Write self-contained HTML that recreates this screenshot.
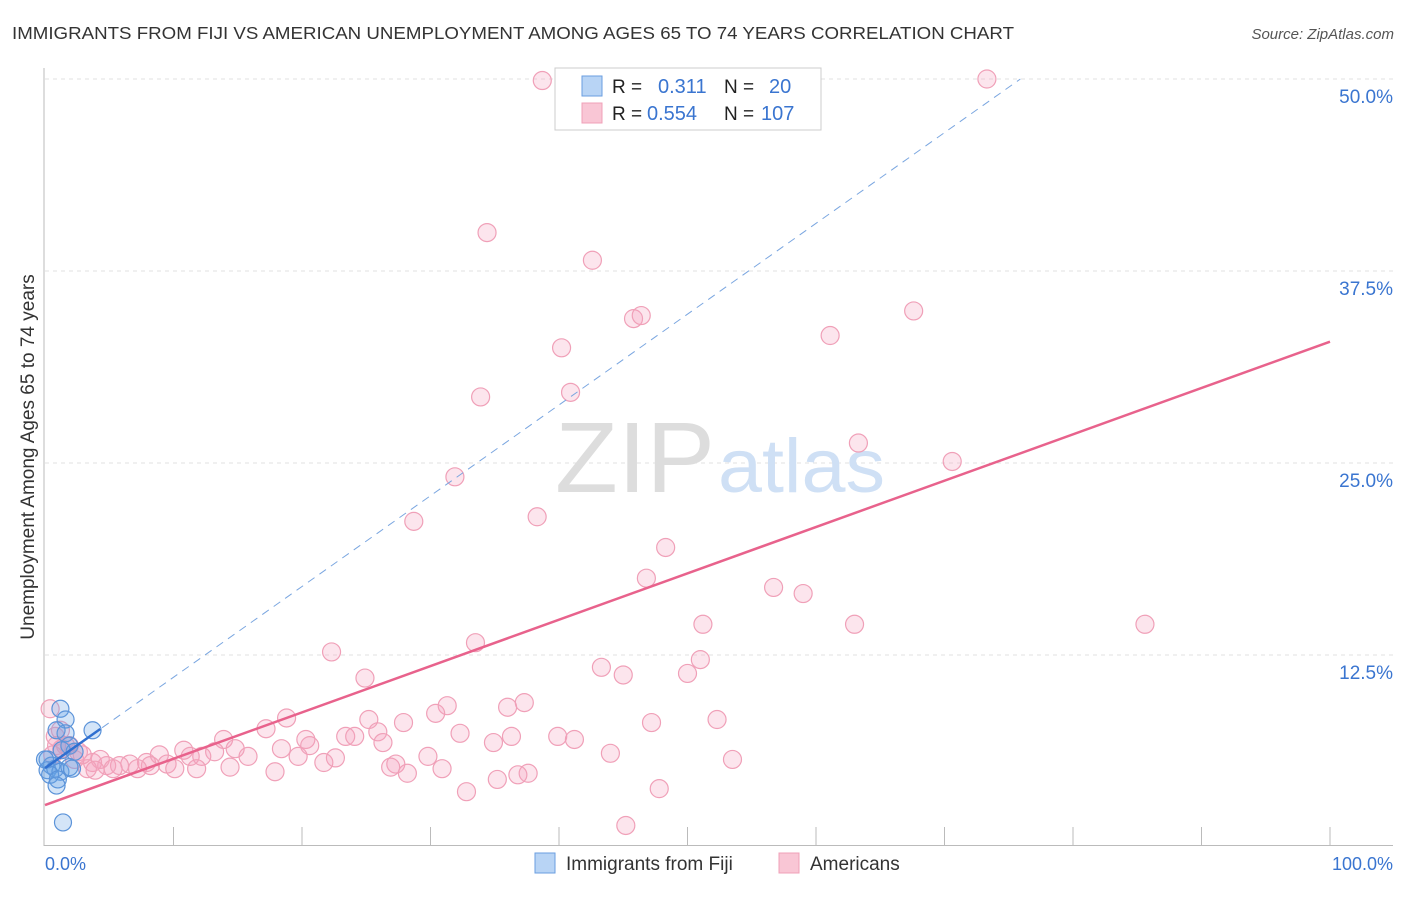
<!DOCTYPE html>
<html><head><meta charset="utf-8"><style>
body{margin:0;background:#fff;font-family:"Liberation Sans",sans-serif;}
svg text{font-family:"Liberation Sans",sans-serif;}
</style></head><body>
<svg id="c" width="1406" height="892">
<text x="12" y="39" font-size="17.5" fill="#333" textLength="1002" lengthAdjust="spacingAndGlyphs">IMMIGRANTS FROM FIJI VS AMERICAN UNEMPLOYMENT AMONG AGES 65 TO 74 YEARS CORRELATION CHART</text>
<text x="1394" y="39" font-size="15" fill="#555" font-style="italic" text-anchor="end">Source: ZipAtlas.com</text>
<g id="grid"></g>
<text x="715" y="492" font-size="100" fill="#ddd" text-anchor="end" font-family="Liberation Serif" textLength="160" lengthAdjust="spacingAndGlyphs">ZIP</text>
<text x="718" y="492" font-size="76" fill="#cfe0f5" textLength="167" lengthAdjust="spacingAndGlyphs">atlas</text>
<g id="marks"></g>
<text transform="translate(34,457) rotate(-90)" font-size="19" fill="#333" text-anchor="middle">Unemployment Among Ages 65 to 74 years</text>
<text x="45" y="870" font-size="18" fill="#3a75d0">0.0%</text>
<text x="1393" y="870" font-size="18" fill="#3a75d0" text-anchor="end">100.0%</text>
<g>
<rect x="555" y="68" width="266" height="62" fill="#fff" stroke="#ccc"/>
<rect x="582" y="76" width="20" height="20" fill="#b8d4f5" stroke="#6a9ee0"/>
<rect x="582" y="103" width="20" height="20" fill="#f9c6d5" stroke="#f0a0b8"/>
<text x="612" y="93" font-size="19" fill="#222">R = </text><text x="658" y="93" font-size="20" fill="#3a75d0">0.311</text>
<text x="724" y="93" font-size="19" fill="#222">N = </text><text x="769" y="93" font-size="20" fill="#3a75d0">20</text>
<text x="612" y="120" font-size="19" fill="#222">R = </text><text x="647" y="120" font-size="20" fill="#3a75d0">0.554</text>
<text x="724" y="120" font-size="19" fill="#222">N = </text><text x="761" y="120" font-size="20" fill="#3a75d0">107</text>
</g>
<g>
<rect x="535" y="853" width="20" height="20" fill="#b8d4f5" stroke="#6a9ee0"/>
<text x="566" y="870" font-size="19" fill="#333">Immigrants from Fiji</text>
<rect x="779" y="853" width="20" height="20" fill="#f9c6d5" stroke="#f0a0b8"/>
<text x="810" y="870" font-size="19" fill="#333">Americans</text>
</g>
</svg>
<script>
const yTicks=[12.5,25,37.5,50];
const yTickLabels=["12.5%","25.0%","37.5%","50.0%"];
const pinkX=[38.7,73.3,34.4,42.6,45.8,46.4,67.6,61.1,40.2,40.9,33.9,63.3,70.6,31.9,28.7,38.3,48.3,46.8,56.7,59.0,51.2,63.0,85.6,33.5,22.3,51.0,43.3,50.0,45.0,24.9,31.3,37.3,36.0,30.4,18.8,25.2,47.2,52.3,27.9,17.2,32.3,36.3,23.4,24.1,39.9,25.9,41.2,13.9,20.3,34.9,26.3,20.6,18.4,14.8,44.0,10.8,29.8,13.2,19.7,22.6,15.8,12.2,8.9,11.3,53.5,21.7,27.3,30.9,26.9,7.9,6.6,9.5,4.8,3.7,5.8,2.6,1.3,0.8,0.4,1.6,4.3,8.2,10.1,11.8,14.4,3.3,5.3,7.2,28.2,17.9,37.6,36.8,35.2,32.8,47.8,45.2,1.9,2.3,2.9,0.9,3.9,0.6,1.2];
const pinkY=[49.9,50.0,40.0,38.2,34.4,34.6,34.9,33.3,32.5,29.6,29.3,26.3,25.1,24.1,21.2,21.5,19.5,17.5,16.9,16.5,14.5,14.5,14.5,13.3,12.7,12.2,11.7,11.3,11.2,11.0,9.2,9.4,9.1,8.7,8.4,8.3,8.1,8.3,8.1,7.7,7.4,7.2,7.2,7.2,7.2,7.5,7.0,7.0,7.0,6.8,6.8,6.6,6.4,6.4,6.1,6.3,5.9,6.2,5.9,5.8,5.9,5.9,6.0,5.9,5.7,5.5,5.4,5.1,5.2,5.5,5.4,5.4,5.3,5.5,5.3,6.2,6.4,7.2,9.0,6.6,5.7,5.3,5.1,5.1,5.2,5.1,5.1,5.1,4.8,4.9,4.8,4.7,4.4,3.6,3.8,1.4,6.6,5.7,6.0,6.6,5.0,6.0,7.6];
const blueX=[1.2,1.6,3.7,1.6,0.9,1.9,1.3,2.3,0.2,0.5,0.2,0.8,1.2,1.9,0.4,1.0,0.9,1.4,2.1,0.0];
const blueY=[9.0,8.3,7.6,7.4,7.6,6.6,6.3,6.2,5.7,5.3,5.0,5.1,4.9,5.2,4.7,4.4,4.0,1.6,5.1,5.7];
const pinkTrend=[2.73,32.9];
const blueTrend=[5.14,0.591];
const NS="http://www.w3.org/2000/svg";
const X=v=>45+v*12.85, Y=v=>847-v*15.36;
function mk(t,a,p){const e=document.createElementNS(NS,t);for(const k in a)e.setAttribute(k,a[k]);p.appendChild(e);return e;}
const g=document.getElementById('grid'), m=document.getElementById('marks');
yTicks.forEach((t,i)=>{
 const l=mk('line',{x1:45,x2:1393,y1:Y(t),y2:Y(t),stroke:'#e2e2e2','stroke-dasharray':'4,4'},g);
 
 
 const tx=mk('text',{x:1393,y:Y(t)+24,'font-size':19,fill:'#3a75d0','text-anchor':'end'},g);
 tx.textContent=yTickLabels[i];
 
 
});
const ax=mk('line',{x1:44,x2:44,y1:68,y2:846,stroke:'#bbb'},g);


const bx=mk('line',{x1:44,x2:1393,y1:845.5,y2:845.5,stroke:'#bbb'},g);


for(let i=1;i<=10;i++){const t=mk('line',{x1:X(i*10),x2:X(i*10),y1:827,y2:845,stroke:'#bbb'},g);
 
 }
pinkX.forEach((v,i)=>{const c=mk('circle',{cx:X(v),cy:Y(pinkY[i]),r:9,fill:'rgba(244,160,190,0.28)',stroke:'#f0a0b8','stroke-width':1.2},m);
 
 });
blueX.forEach((v,i)=>{const c=mk('circle',{cx:X(v),cy:Y(blueY[i]),r:8.5,fill:'rgba(100,160,230,0.28)',stroke:'#5b93d9','stroke-width':1.2},m);
 
 });
const pl=mk('line',{x1:X(0),y1:Y(pinkTrend[0]),x2:X(100),y2:Y(pinkTrend[1]),stroke:'#e8628c','stroke-width':2.5},m);


const bEnd=(50-blueTrend[0])/blueTrend[1];
const bd=mk('line',{x1:X(0),y1:Y(blueTrend[0]),x2:X(bEnd),y2:Y(50),stroke:'#7aa6e0','stroke-width':1,'stroke-dasharray':'8,6'},m);


const bs=mk('line',{x1:X(0),y1:Y(blueTrend[0]),x2:X(4.3),y2:Y(blueTrend[0]+blueTrend[1]*4.3),stroke:'#2f6fd0','stroke-width':2.5},m);


</script>
</body></html>
